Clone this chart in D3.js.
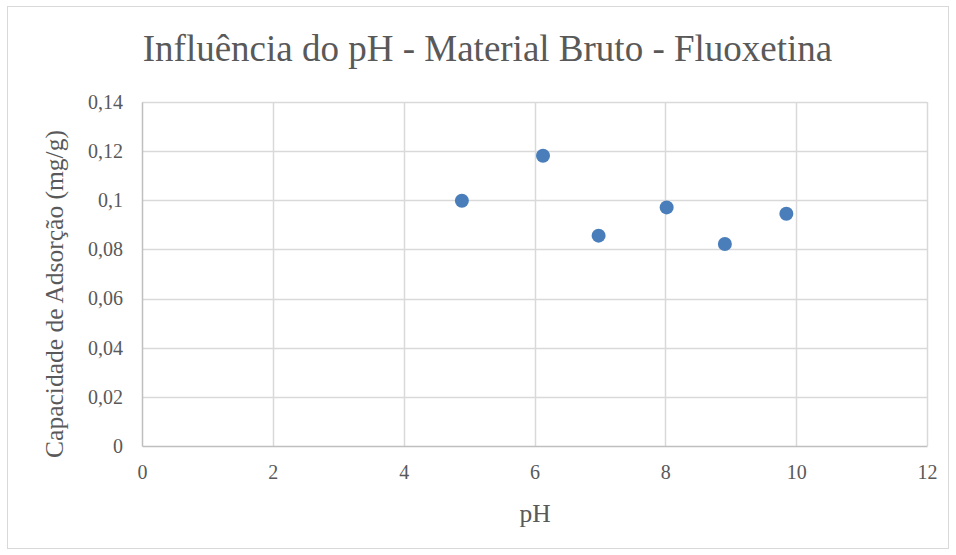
<!DOCTYPE html>
<html>
<head>
<meta charset="utf-8">
<script src="https://cdn.jsdelivr.net/npm/d3@7"></script>
<style>
  body { margin: 0; background: #fff; }
  text { font-family: "Liberation Serif", "Times New Roman", serif; fill: #595959; }
</style>
</head>
<body>
<script>
var W = 956, H = 555;

// data
var phValues = [4.89, 6.13, 6.98, 8.02, 8.91, 9.85];
var capacity = [0.0998, 0.1181, 0.0856, 0.0971, 0.0822, 0.0945];
var xTicks = [0, 2, 4, 6, 8, 10, 12];
var yTicks = [0, 0.02, 0.04, 0.06, 0.08, 0.1, 0.12, 0.14];

var margin = { left: 142, right: 29, top: 102, bottom: 109 };
var pw = W - margin.left - margin.right;
var ph = H - margin.top - margin.bottom;

var svg = d3.select(document.body)
  .append("svg")
  .attr("width", W).attr("height", H);

svg.append("rect")
  .attr("x", 7.5).attr("y", 6.5)
  .attr("width", W - 15).attr("height", H - 13)
  .style("fill", "#fff").style("stroke", "#d9d9d9");

var x = d3.scaleLinear().domain([0, 12]).range([margin.left, margin.left + pw]);
var y = d3.scaleLinear().domain([0, 0.14]).range([margin.top + ph, margin.top]);

var fmt = function(v) { return d3.format("~g")(+v.toFixed(2)).replace(".", ","); };

// grid
svg.append("g").selectAll("line").data(yTicks.slice(1)).enter().append("line")
  .attr("x1", margin.left).attr("x2", margin.left + pw)
  .attr("y1", d => Math.round(y(d)) + 0.5).attr("y2", d => Math.round(y(d)) + 0.5)
  .style("stroke", "#d9d9d9").style("stroke-width", 1.5);
svg.append("g").selectAll("line").data(xTicks.slice(1)).enter().append("line")
  .attr("y1", margin.top).attr("y2", margin.top + ph)
  .attr("x1", d => Math.round(x(d)) + 0.5).attr("x2", d => Math.round(x(d)) + 0.5)
  .style("stroke", "#d9d9d9").style("stroke-width", 1.5);

// axes
var xAxis = svg.append("g")
  .attr("transform", "translate(0," + (margin.top + ph) + ")")
  .call(d3.axisBottom(x).tickValues(xTicks).tickSize(0).tickPadding(14).tickFormat(d => d));
var yAxis = svg.append("g")
  .attr("transform", "translate(" + margin.left + ",0)")
  .call(d3.axisLeft(y).tickValues(yTicks).tickSize(0).tickPadding(19).tickFormat(fmt));

[xAxis, yAxis].forEach(function(a) {
  a.select(".domain").style("stroke", "#bfbfbf").style("stroke-width", 1.5);
  a.selectAll("text").style("font-size", "20px").style("fill", "#595959")
    .style("font-family", "'Liberation Serif', serif");
});
xAxis.selectAll("text").attr("dy", "0.95em");

// points
svg.append("g").selectAll("circle").data(phValues).enter().append("circle")
  .attr("cx", d => x(d))
  .attr("cy", (d, i) => y(capacity[i]))
  .attr("r", 7)
  .style("fill", "#4a7ebb");

// titles
svg.append("text")
  .attr("x", 487.5).attr("y", 61)
  .attr("text-anchor", "middle")
  .style("font-size", "37px")
  .text("Influência do pH - Material Bruto - Fluoxetina");

svg.append("text")
  .attr("x", 535).attr("y", 522)
  .attr("text-anchor", "middle")
  .style("font-size", "25.5px")
  .text("pH");

svg.append("text")
  .attr("transform", "translate(63,294) rotate(-90)")
  .attr("text-anchor", "middle")
  .style("font-size", "25.5px")
  .text("Capacidade de Adsorção (mg/g)");
</script>
</body>
</html>
